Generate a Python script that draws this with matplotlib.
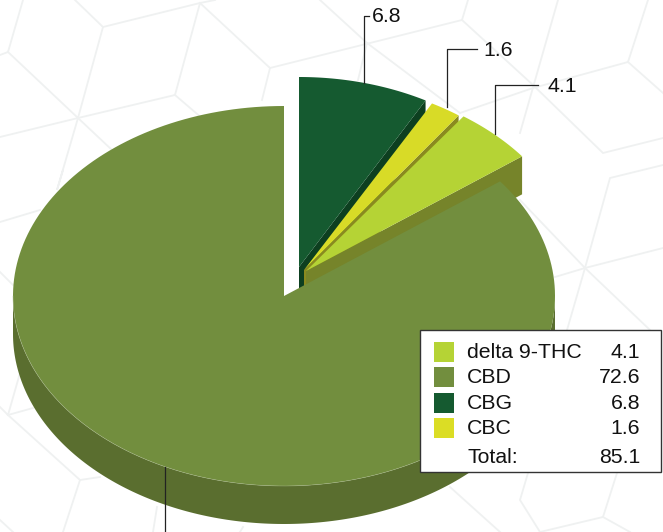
import numpy as np
import matplotlib
matplotlib.use("Agg")
import matplotlib.pyplot as plt
from matplotlib.patches import Rectangle

plt.rcParams['font.family'] = ['Liberation Sans', 'DejaVu Sans']

# Chart data, clockwise from 12 o'clock
slice_names = ["CBG", "CBC", "delta 9-THC", "CBD"]
slice_values = [6.8, 1.6, 4.1, 72.6]
top_colors = ["#155a30", "#d8db27", "#b5d335", "#728e3e"]
wall_colors = ["#0d3f20", "#8a8a1f", "#76842a", "#5a6e2f"]

legend_names = ["delta 9-THC", "CBD", "CBG", "CBC"]
legend_values = [4.1, 72.6, 6.8, 1.6]
legend_colors = ["#b5d335", "#728e3e", "#155a30", "#dbdd25"]
total_label = "Total:"
total_value = 85.1

# Pie geometry in pixels
RY, DEPTH = 190, 38
slice_rx = [263, 266, 271, 271]
centers = [(299, 267), (304, 270), (306, 271), (284, 296)]
FONT_SIZE = 15.3

# Faint hexagon pattern behind the chart
pattern_lines = [
    [(0, 55), (8, 52), (23, 0)], [(8, 52), (78, 118)], [(0, 137), (78, 118), (103, 27), (75, 0)],
    [(103, 27), (200, 3), (215, 0)], [(200, 3), (175, 95), (78, 118)], [(200, 3), (270, 68), (462, 20), (468, 0)],
    [(270, 68), (262, 100)], [(175, 95), (210, 125)], [(78, 118), (112, 150)], [(78, 118), (57, 190), (63, 170)],
    [(320, 0), (367, 43), (460, 113)], [(367, 43), (358, 80)], [(462, 20), (533, 85), (603, 153), (663, 138)],
    [(558, 0), (520, 133)], [(460, 113), (533, 88), (628, 62), (648, 0)], [(628, 62), (663, 93)],
    [(663, 165), (610, 178), (585, 268), (555, 277)], [(585, 268), (663, 248)], [(585, 268), (520, 200)],
    [(585, 268), (567, 330)], [(585, 268), (650, 330)], [(0, 222), (40, 210)], [(0, 272), (13, 285)],
    [(20, 373), (8, 415), (0, 407)], [(8, 415), (33, 408)], [(8, 415), (80, 480), (100, 477)],
    [(80, 480), (63, 532)], [(0, 520), (13, 532)], [(157, 507), (153, 532)], [(243, 527), (240, 532)],
    [(450, 487), (500, 532)], [(528, 473), (520, 500), (540, 532)], [(617, 473), (603, 517), (540, 532)],
    [(603, 517), (630, 532)],
]


def arc_points(center, rx, start, end, n=200):
    # angles in degrees, clockwise from 12 o'clock
    t = np.radians(np.linspace(start, end, n))
    return center[0] + rx * np.sin(t), center[1] - RY * np.cos(t)


fig = plt.figure(figsize=(6.63, 5.32), dpi=100)
ax = fig.add_axes([0, 0, 1, 1])
ax.set_xlim(0, 663)
ax.set_ylim(532, 0)
ax.axis("off")

for line in pattern_lines:
    xs, ys = zip(*line)
    ax.plot(xs, ys, color="#eff1f1", lw=1.3, solid_joinstyle="miter", zorder=1)

# Slices back to front, each cut wall first and its top face after it
edges = np.cumsum([0] + slice_values) / sum(slice_values) * 360
for i, name in enumerate(slice_names):
    cx, cy = centers[i]
    rx = slice_rx[i]
    start, end = edges[i], edges[i + 1]
    ex, ey = arc_points(centers[i], rx, end, end, 1)
    z = 2 + i
    if name == "CBD":
        # front rim of the big slice
        rim_x, rim_y = arc_points(centers[i], rx, 90, 270)
        ax.fill(np.r_[rim_x, rim_x[::-1]], np.r_[rim_y, rim_y[::-1] + DEPTH], color=wall_colors[i], lw=0, zorder=z)
    else:
        ax.fill([cx, ex[0], ex[0], cx], [cy, ey[0], ey[0] + DEPTH, cy + DEPTH], color=wall_colors[i], lw=0, zorder=z)
    px, py = arc_points(centers[i], rx, start, end)
    ax.fill(np.r_[cx, px], np.r_[cy, py], color=top_colors[i], lw=0, zorder=z)
    if name == "CBD":
        # thin highlight where the top meets the rim
        hx, hy = arc_points(centers[i], rx, 125, 270)
        ax.plot(hx, hy, color="#a9b98c", lw=0.4, alpha=0.7, zorder=z)

# Leader lines and their labels
leader_color = "#222222"
ax.plot([364, 364, 369], [83, 16, 16], color=leader_color, lw=0.9, zorder=7)
ax.plot([447, 447, 477], [107, 49, 49], color=leader_color, lw=0.9, zorder=7)
ax.plot([495, 495, 538], [134, 85, 85], color=leader_color, lw=0.9, zorder=7)
ax.plot([165, 165], [467, 532], color=leader_color, lw=0.9, zorder=7)
ax.text(372, 17, "6.8", fontsize=FONT_SIZE, color="#111111", va="center", ha="left", zorder=7)
ax.text(483, 51, "1.6", fontsize=FONT_SIZE, color="#111111", va="center", ha="left", zorder=7)
ax.text(547, 86, "4.1", fontsize=FONT_SIZE, color="#111111", va="center", ha="left", zorder=7)

# Legend box, drawn by hand to get the value column
ax.add_patch(Rectangle((419.5, 330), 241, 142, fc="white", ec="#333333", lw=1.0, zorder=8))
row_ys = [352, 377, 403, 428]
for y, name, value, color in zip(row_ys, legend_names, legend_values, legend_colors):
    ax.add_patch(Rectangle((434, y - 10.5), 20, 20, fc=color, ec="none", zorder=9))
    ax.text(467, y + 0.5, name, fontsize=FONT_SIZE, color="#111111", va="center", ha="left", zorder=9)
    ax.text(640, y + 0.5, f"{value}", fontsize=FONT_SIZE, color="#111111", va="center", ha="right", zorder=9)
ax.text(467, 457.5, total_label, fontsize=FONT_SIZE, color="#111111", va="center", ha="left", zorder=9)
ax.text(640, 457.5, f"{total_value}", fontsize=FONT_SIZE, color="#111111", va="center", ha="right", zorder=9)

fig.savefig("out.png", dpi=100)
